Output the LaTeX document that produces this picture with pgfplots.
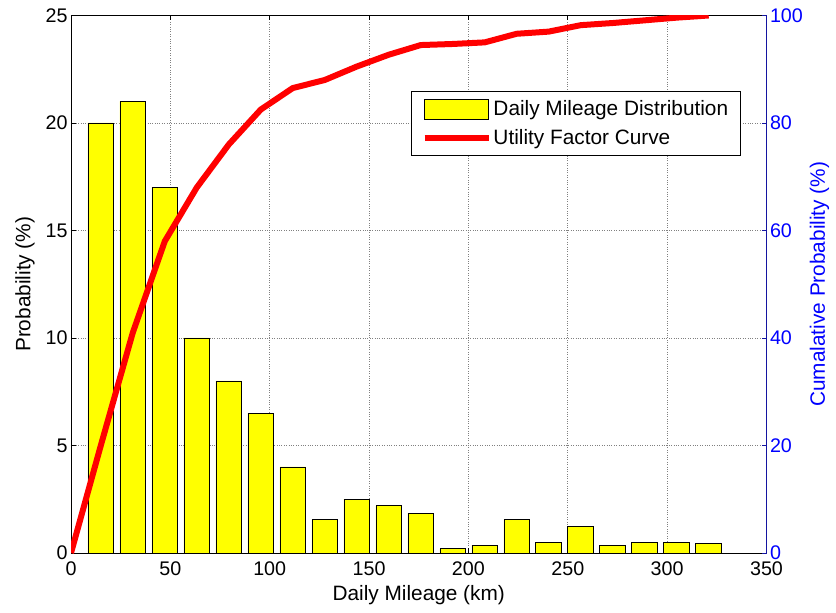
\documentclass[border=0pt]{standalone}
\usepackage{fontspec}
\setmainfont{Liberation Sans}
\usepackage{pgfplots}
\pgfplotsset{compat=1.18}

\definecolor{axblue}{RGB}{20,20,160}
\definecolor{lblblue}{RGB}{0,0,255}
\definecolor{baryellow}{RGB}{255,255,0}

\pgfplotsset{
  mlab/.style={
    scale only axis, width=695.5bp, height=537.5bp,
    xmin=0, xmax=350,
    tick align=inside, major tick length=5bp,
    /pgf/number format/assume math mode=true,
    tick label style={font=\fontsize{19.7bp}{22bp}\selectfont},
    label style={font=\fontsize{20.8bp}{24bp}\selectfont},
    axis line style={line width=0.8bp},
    every tick/.style={line width=0.8bp},
  }
}

\begin{document}
\begin{tikzpicture}
\useasboundingbox (-71bp,-60bp) rectangle (765bp,553bp);

% histogram, left axis
\begin{axis}[mlab,
  ymin=0, ymax=25,
  xtick={0,50,...,350}, ytick={0,5,...,25},
  xtick pos=both, ytick pos=left,
  grid=major,
  major grid style={dotted, gray, line width=0.7bp},
  xticklabel style={yshift=-5bp},
  xlabel={Daily Mileage (km)},
  xlabel shift=3bp,
  ylabel={Probability (\%)},
  ylabel shift=4bp,
]
\addplot[ybar, bar width=12.9, bar shift=0pt, fill=baryellow, draw=black, line width=0.8bp]
  coordinates {
  (15,20) (31.1,21) (47.2,17) (63.3,10) (79.4,8) (95.5,6.5) (111.6,4)
  (127.7,1.55) (143.8,2.5) (159.9,2.2) (176,1.85) (192.1,0.2) (208.2,0.37)
  (224.3,1.55) (240.4,0.5) (256.5,1.25) (272.6,0.37) (288.7,0.5)
  (304.8,0.5) (320.9,0.45)
};
\end{axis}

% cumulative curve, right axis
\begin{axis}[mlab,
  ymin=0, ymax=100,
  ytick={0,20,...,100},
  axis x line=none, axis y line*=right,
  y axis line style={axblue},
  ytick style={axblue},
  yticklabel style={lblblue},
  ylabel={Cumalative Probability (\%)},
  ylabel style={lblblue},
  legend cell align=left,
  legend style={at={(0.489,0.859)}, anchor=north west, draw=black, line width=0.8bp,
    font=\fontsize{20.8bp}{24bp}\selectfont, row sep=8bp,
    inner xsep=10bp, inner ysep=7bp},
]
\addlegendimage{legend image code/.code={\draw[fill=baryellow, draw=black, line width=0.8bp] (0bp,-10bp) rectangle (64bp,10bp);}}
\addlegendentry{Daily Mileage Distribution}
\addplot[red, line width=6bp, line join=round,
  legend image code/.code={\draw[red, line width=6bp] (0bp,0bp) -- (64bp,0bp);}]
  coordinates {
  (0,0) (15,20) (31.1,41) (47.2,58) (63.3,68) (79.4,76) (95.5,82.5)
  (111.6,86.5) (127.7,88) (143.8,90.5) (159.9,92.7) (176,94.5) (192.1,94.7)
  (208.2,95) (224.3,96.6) (240.4,97) (256.5,98.2) (272.6,98.6) (288.7,99.1)
  (304.8,99.6) (320.9,100)
};
\addlegendentry{Utility Factor Curve}
\end{axis}
\end{tikzpicture}
\end{document}
